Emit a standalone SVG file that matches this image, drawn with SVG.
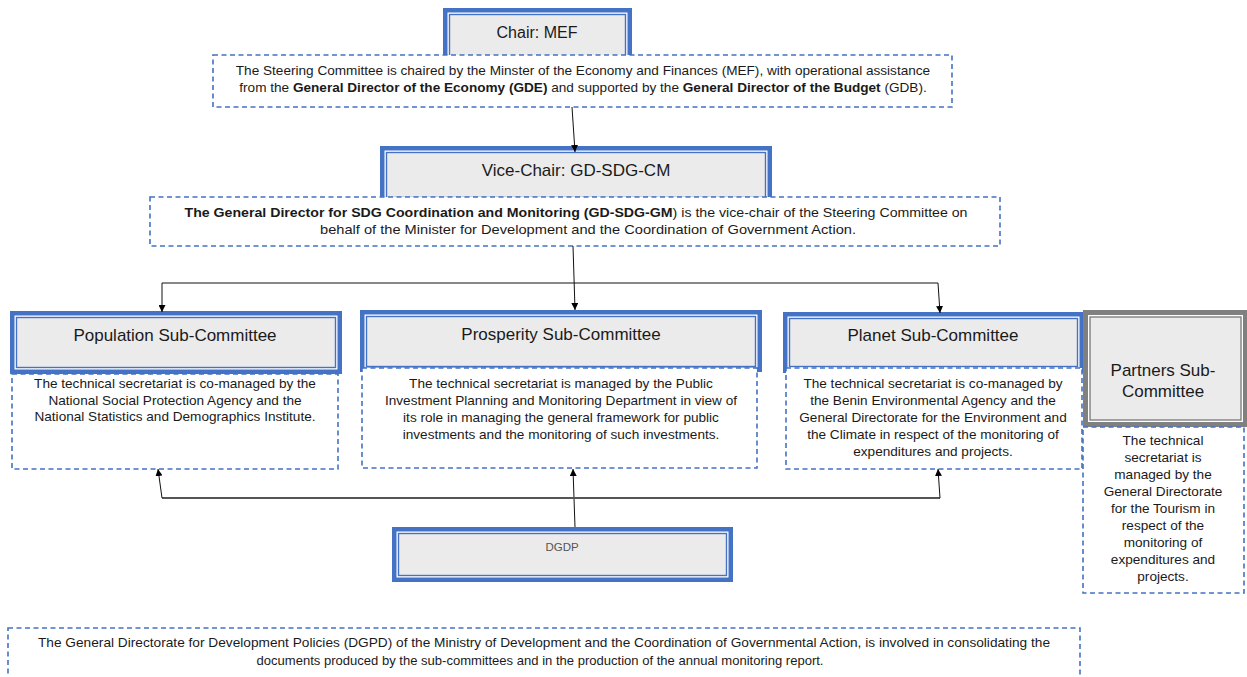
<svg xmlns="http://www.w3.org/2000/svg" width="1247" height="677" viewBox="0 0 1247 677">
<style>
text{font-family:"Liberation Sans",Arial,sans-serif;fill:#1a1a1a}
.h{font-size:17px;text-anchor:middle}
.t{font-size:13.6px;text-anchor:middle}
.b{font-weight:bold}
.outer{fill:#4472C4}
.gap{fill:#ffffff}
.inner{fill:#EBEBEB;stroke:#4472C4;stroke-width:1.4}
.gouter{fill:#808080}
.ginner{fill:#EBEBEB;stroke:#808080;stroke-width:1.4}
.dash{fill:#ffffff;stroke:#4472C4;stroke-width:1.6;stroke-dasharray:5 3.5}
.con{fill:none;stroke:#111;stroke-width:1}
.con2{fill:none;stroke:#555;stroke-width:2}
</style>
<defs>
<marker id="ah" viewBox="0 0 10 10" refX="10" refY="5" markerWidth="7" markerHeight="7" orient="auto" markerUnits="userSpaceOnUse">
<path d="M0,0 L10,5 L0,10 z" fill="#000"/>
</marker>
</defs>

<g id="chair">
<rect class="outer" x="443" y="8" width="189" height="52"/>
<rect class="gap" x="447.5" y="12.5" width="180" height="45"/>
<rect class="inner" x="449.5" y="14.5" width="176" height="43"/>
<text class="h" x="537" y="38" style="font-size:16px">Chair: MEF</text>
</g>
<g id="chair-desc">
<rect class="dash" x="213" y="55" width="739" height="52"/>
<text class="t" x="583" y="75">The Steering Committee is chaired by the Minster of the Economy and Finances (MEF), with operational assistance</text>
<text class="t" x="583" y="92">from the <tspan class="b">General Director of the Economy (GDE)</tspan> and supported by the <tspan class="b">General Director of the Budget</tspan> (GDB).</text>
</g>

<g id="vicechair">
<rect class="outer" x="380" y="146" width="392" height="56"/>
<rect class="gap" x="384.5" y="150.5" width="383" height="48"/>
<rect class="inner" x="386.5" y="152.5" width="379" height="45"/>
<text class="h" x="576" y="176">Vice-Chair: GD-SDG-CM</text>
</g>
<g id="vicechair-desc">
<rect class="dash" x="150" y="197" width="850" height="49"/>
<text class="t" x="576" y="217" textLength="783" lengthAdjust="spacingAndGlyphs"><tspan class="b">The General Director for SDG Coordination and Monitoring (GD-SDG-GM</tspan>) is the vice-chair of the Steering Committee on</text>
<text class="t" x="588" y="234" textLength="536" lengthAdjust="spacingAndGlyphs">behalf of the  Minister for Development and the Coordination of Government Action.</text>
</g>

<g id="population">
<rect class="outer" x="10" y="311" width="332" height="63"/>
<rect class="gap" x="14.5" y="315.5" width="323" height="54"/>
<rect class="inner" x="16.5" y="317.5" width="319" height="50"/>
<text class="h" x="175" y="341">Population Sub-Committee</text>
<rect class="dash" x="12" y="374" width="326" height="95"/>
<text class="t" x="175" y="388">The technical secretariat is co-managed by the</text>
<text class="t" x="175" y="405">National Social Protection Agency and the</text>
<text class="t" x="175" y="421">National Statistics and Demographics Institute.</text>
</g>

<g id="prosperity">
<rect class="outer" x="360" y="310" width="402" height="62"/>
<rect class="gap" x="364.5" y="314.5" width="393" height="53"/>
<rect class="inner" x="366.5" y="316.5" width="389" height="50"/>
<text class="h" x="561" y="340">Prosperity Sub-Committee</text>
<rect class="dash" x="362" y="368" width="395" height="100"/>
<text class="t" x="561" y="388">The technical secretariat is managed by the Public</text>
<text class="t" x="561" y="405">Investment Planning and Monitoring Department in view of</text>
<text class="t" x="561" y="422">its role in managing the general framework for public</text>
<text class="t" x="561" y="439">investments and the monitoring of such investments.</text>
</g>

<g id="planet">
<rect class="outer" x="783" y="312" width="301" height="61"/>
<rect class="gap" x="787.5" y="316.5" width="292" height="52"/>
<rect class="inner" x="789.5" y="318.5" width="288" height="48"/>
<text class="h" x="933" y="341">Planet Sub-Committee</text>
<rect class="dash" x="786" y="368" width="296" height="101"/>
<text class="t" x="933" y="388">The technical secretariat is co-managed by</text>
<text class="t" x="933" y="405">the Benin Environmental Agency and the</text>
<text class="t" x="933" y="422">General Directorate for the Environment and</text>
<text class="t" x="933" y="439">the Climate in respect of the monitoring of</text>
<text class="t" x="933" y="456">expenditures and projects.</text>
</g>

<g id="partners">
<rect class="gouter" x="1083" y="310" width="164" height="117"/>
<rect class="gap" x="1088" y="315" width="155" height="107"/>
<rect class="ginner" x="1090" y="317" width="151" height="103"/>
<text class="h" x="1163" y="376">Partners Sub-</text>
<text class="h" x="1163" y="397">Committee</text>
<rect class="dash" x="1083" y="427" width="161" height="166"/>
<text class="t" x="1163" y="445">The technical</text>
<text class="t" x="1163" y="462">secretariat is</text>
<text class="t" x="1163" y="479">managed by the</text>
<text class="t" x="1163" y="496">General Directorate</text>
<text class="t" x="1163" y="513">for the Tourism in</text>
<text class="t" x="1163" y="530">respect of the</text>
<text class="t" x="1163" y="547">monitoring of</text>
<text class="t" x="1163" y="564">expenditures and</text>
<text class="t" x="1163" y="581">projects.</text>
</g>

<g id="dgdp">
<rect class="outer" x="392" y="527" width="341" height="55"/>
<rect class="gap" x="396.5" y="531.5" width="332" height="46"/>
<rect class="inner" x="398.5" y="533.5" width="328" height="42"/>
<text x="562" y="551" style="font-size:11.5px;text-anchor:middle;fill:#555">DGDP</text>
</g>

<g id="dgdp-desc">
<rect class="dash" x="8" y="628" width="1072" height="60"/>
<text class="t" x="544" y="647" textLength="1012" lengthAdjust="spacingAndGlyphs">The General Directorate for Development Policies (DGPD) of the Ministry of Development and the Coordination of Governmental Action, is involved in consolidating the</text>
<text class="t" x="540" y="665" textLength="567" lengthAdjust="spacingAndGlyphs">documents produced by the sub-committees and in the production of the annual monitoring report.</text>
</g>

<g id="connectors">
<path class="con" d="M572,107 L575,152" marker-end="url(#ah)"/>
<path class="con" d="M573,246 L575,310" marker-end="url(#ah)"/>
<path class="con" d="M162,283 L938,283"/>
<path class="con" d="M162,283 L162,312" marker-end="url(#ah)"/>
<path class="con" d="M938,283 L940,313" marker-end="url(#ah)"/>
<path class="con" d="M575,527 L573,469" marker-end="url(#ah)"/>
<path class="con2" d="M162,498 L940,498"/>
<path class="con" d="M162,498 L158,469" marker-end="url(#ah)"/>
<path class="con" d="M940,498 L938,469" marker-end="url(#ah)"/>
</g>
</svg>
